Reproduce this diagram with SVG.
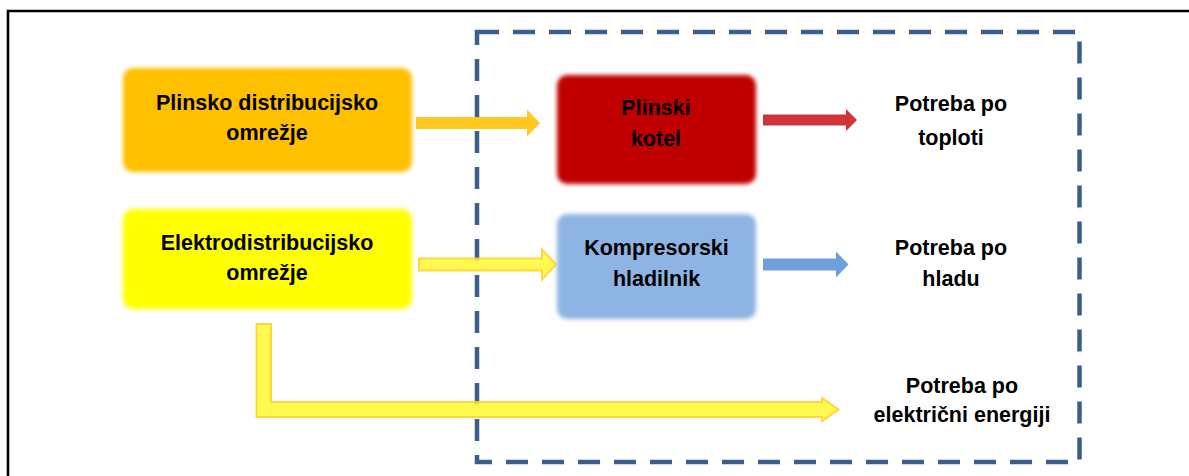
<svg xmlns="http://www.w3.org/2000/svg" width="1189" height="476" viewBox="0 0 1189 476">
  <defs>
    <filter id="soft" x="-10%" y="-10%" width="120%" height="120%">
      <feGaussianBlur stdDeviation="2"/>
    </filter>
  </defs>
  <style>
    .lbl { font-family: "Liberation Sans", Arial, sans-serif; font-weight: bold; font-size: 21.5px; fill: #000; text-anchor: middle; }
    .box { filter: url(#soft); }
    .yarrow { fill: #FFFA3C; stroke: #FFD22E; stroke-width: 2; stroke-linejoin: miter; opacity: 0.9; }
  </style>
  <rect width="1189" height="476" fill="#ffffff"/>
  <g id="frame">
    <path d="M8,480 V11 H1195" fill="none" stroke="#000" stroke-width="2.6"/>
  </g>
  <g id="boundary">
    <rect x="477" y="32" width="602.5" height="430" fill="none" stroke="#3A5F8C" stroke-width="4.5" stroke-dasharray="22 14"/>
  </g>
  <g id="node-plinsko">
    <rect class="box" x="123" y="68" width="289" height="104" rx="10" fill="#FFC000"/>
    <text class="lbl" x="267" y="110">Plinsko distribucijsko</text>
    <text class="lbl" x="267" y="140">omrežje</text>
  </g>
  <g id="node-elektro">
    <rect class="box" x="123" y="209" width="289" height="100" rx="10" fill="#FFFF00"/>
    <text class="lbl" x="267" y="250">Elektrodistribucijsko</text>
    <text class="lbl" x="267" y="280">omrežje</text>
  </g>
  <g id="node-kotel">
    <rect class="box" x="557" y="75" width="199" height="109" rx="10" fill="#C00000"/>
    <text class="lbl" x="656" y="115">Plinski</text>
    <text class="lbl" x="656" y="146">kotel</text>
  </g>
  <g id="node-hladilnik">
    <rect class="box" x="557" y="214" width="199" height="105" rx="10" fill="#8EB4E3"/>
    <text class="lbl" x="656.5" y="255">Kompresorski</text>
    <text class="lbl" x="656.5" y="286">hladilnik</text>
  </g>
  <g id="node-toplota">
    <text class="lbl" x="951" y="111">Potreba po</text>
    <text class="lbl" x="951" y="145">toploti</text>
  </g>
  <g id="node-hlad">
    <text class="lbl" x="951" y="255">Potreba po</text>
    <text class="lbl" x="951" y="286">hladu</text>
  </g>
  <g id="node-elektricna">
    <text class="lbl" x="962" y="393">Potreba po</text>
    <text class="lbl" x="962" y="422">električni energiji</text>
  </g>
  <g id="connectors">
    <polygon points="416,117 527,117 527,109.5 540,123 527,136.5 527,129 416,129" fill="#FFC000" opacity="0.88"/>
    <polygon class="yarrow" points="419,258.5 542,258.5 542,249.5 556,264.5 542,279.5 542,270.5 419,270.5"/>
    <polygon points="763,114.5 846,114.5 846,109 857,120 846,131 846,125.5 763,125.5" fill="#D13438"/>
    <polygon points="763,258.5 836,258.5 836,251.5 848.5,264.5 836,277.5 836,270.5 763,270.5" fill="#6FA0DC"/>
    <polygon class="yarrow" points="256.5,324 271,324 271,402 822,402 822,398 838.5,409.5 822,421 822,417 256.5,417"/>
  </g>
</svg>
